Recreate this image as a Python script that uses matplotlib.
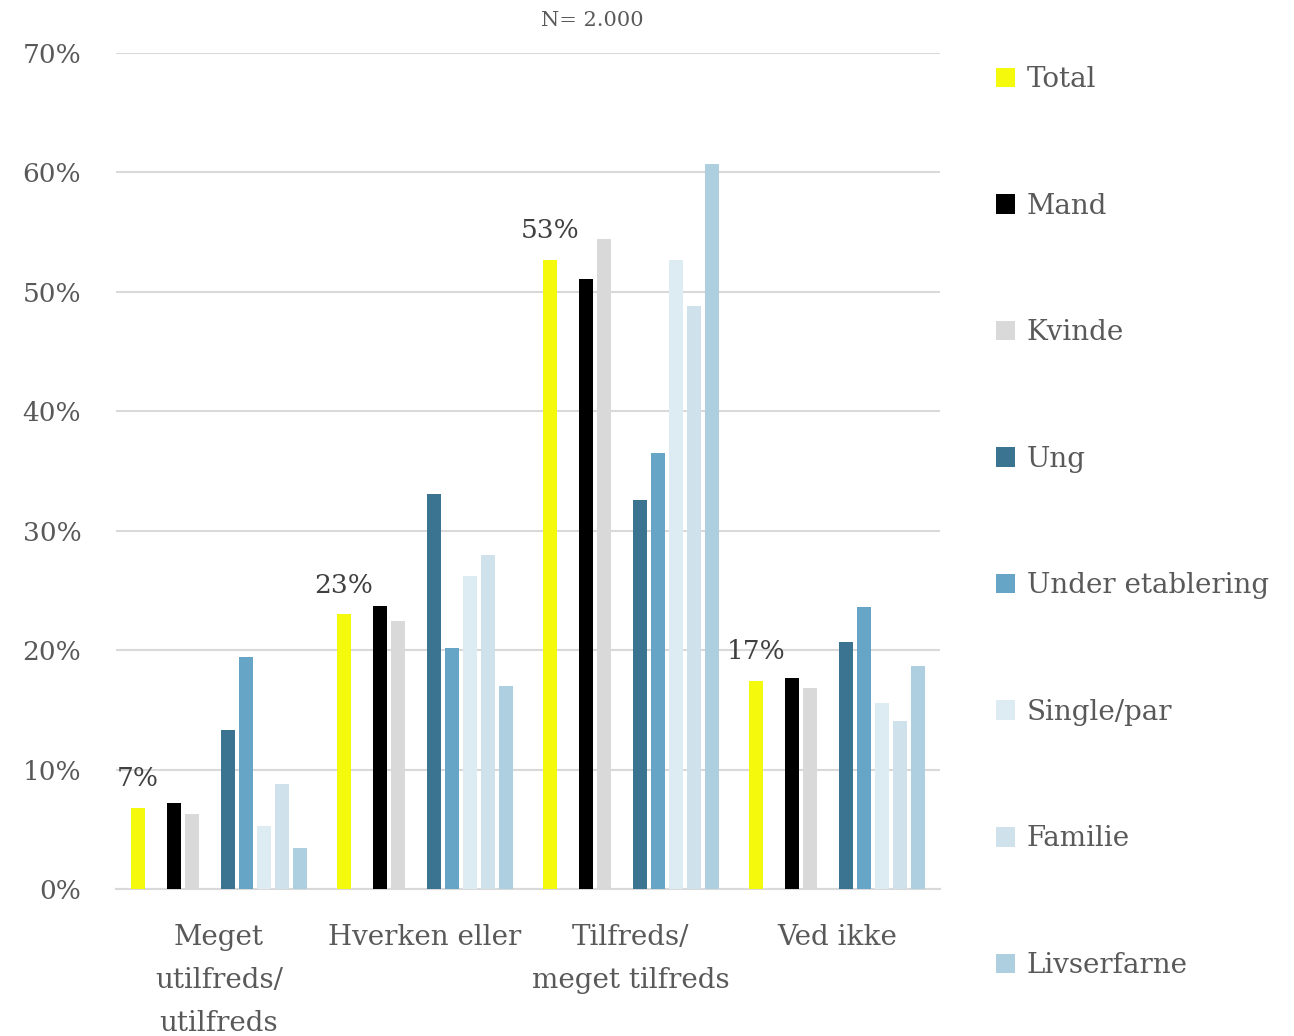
import matplotlib
matplotlib.use("Agg")
import matplotlib.pyplot as plt
from matplotlib.patches import Patch
import numpy as np

categories = ["Meget\nutilfreds/\nutilfreds", "Hverken eller", "Tilfreds/\nmeget tilfreds", "Ved ikke"]
series_names = ["Total", "Mand", "Kvinde", "Ung", "Under etablering", "Single/par", "Familie", "Livserfarne"]
total = [6.8, 23.0, 52.7, 17.4]
mand = [7.2, 23.7, 51.1, 17.7]
kvinde = [6.3, 22.4, 54.4, 16.8]
ung = [13.3, 33.1, 32.6, 20.7]
under_etablering = [19.4, 20.2, 36.5, 23.6]
single_par = [5.3, 26.2, 52.7, 15.6]
familie = [8.8, 28.0, 48.8, 14.1]
livserfarne = [3.4, 17.0, 60.7, 18.7]
total_labels = ["7%", "23%", "53%", "17%"]
yticks = [0, 10, 20, 30, 40, 50, 60, 70]

colors = ["#F5FA0C", "#000000", "#D9D9D9", "#3A7491", "#66A5C5", "#DDEBF2", "#CFE2EB", "#ADCFDF"]
slots = [0, 2, 3, 5, 6, 7, 8, 9]
data = [total, mand, kvinde, ung, under_etablering, single_par, familie, livserfarne]

plt.rcParams['font.family'] = ['DejaVu Serif']
txt = "#595959"

fig = plt.figure(figsize=(12.94, 10.36), dpi=100)
ax = fig.add_axes([116/1294, 1-889/1036, (940-116)/1294, (889-53)/1036])

slot_w = 18/206
bar_w = 14/206
x = np.arange(len(categories))
handles = []
for vals, s, c, name in zip(data, slots, colors, series_names):
    ax.bar(x + (s-4.5)*slot_w, vals, width=bar_w, color=c, zorder=3)
    handles.append(Patch(facecolor=c, label=name))

for i, (v, lab) in enumerate(zip(total, total_labels)):
    ax.text(i + (0-4.5)*slot_w, v + 1.4, lab, ha="center", va="bottom", fontsize=19, color="#404040")

ax.set_xlim(-0.5, len(categories)-0.5)
ax.set_ylim(0, 70)
ax.set_yticks(yticks)
ax.set_yticklabels([f"{t}%" for t in yticks], fontsize=19, color=txt)
ax.set_xticks(x)
ax.set_xticklabels(categories, fontsize=20, color=txt, linespacing=1.78)
ax.tick_params(axis="y", length=0, pad=25)
ax.tick_params(axis="x", length=0, pad=25)
ax.grid(axis="y", color="#D9D9D9", linewidth=1.5, zorder=0)
for sp in ["top", "right", "left"]:
    ax.spines[sp].set_visible(False)
ax.spines["bottom"].set_color("#D9D9D9")
ax.spines["bottom"].set_linewidth(1.5)

fig.text(592/1294, 1-20/1036, "N= 2.000", ha="center", va="center", fontsize=15, color=txt)

leg = fig.legend(handles=handles, loc="upper left", bbox_to_anchor=(996/1294, 1-66/1036),
                 frameon=False, fontsize=20, labelspacing=3.585, handlelength=0.7,
                 handleheight=0.7, handletextpad=0.4, borderaxespad=0, borderpad=0)
for t in leg.get_texts():
    t.set_color(txt)

fig.savefig("out.png", dpi=100)
